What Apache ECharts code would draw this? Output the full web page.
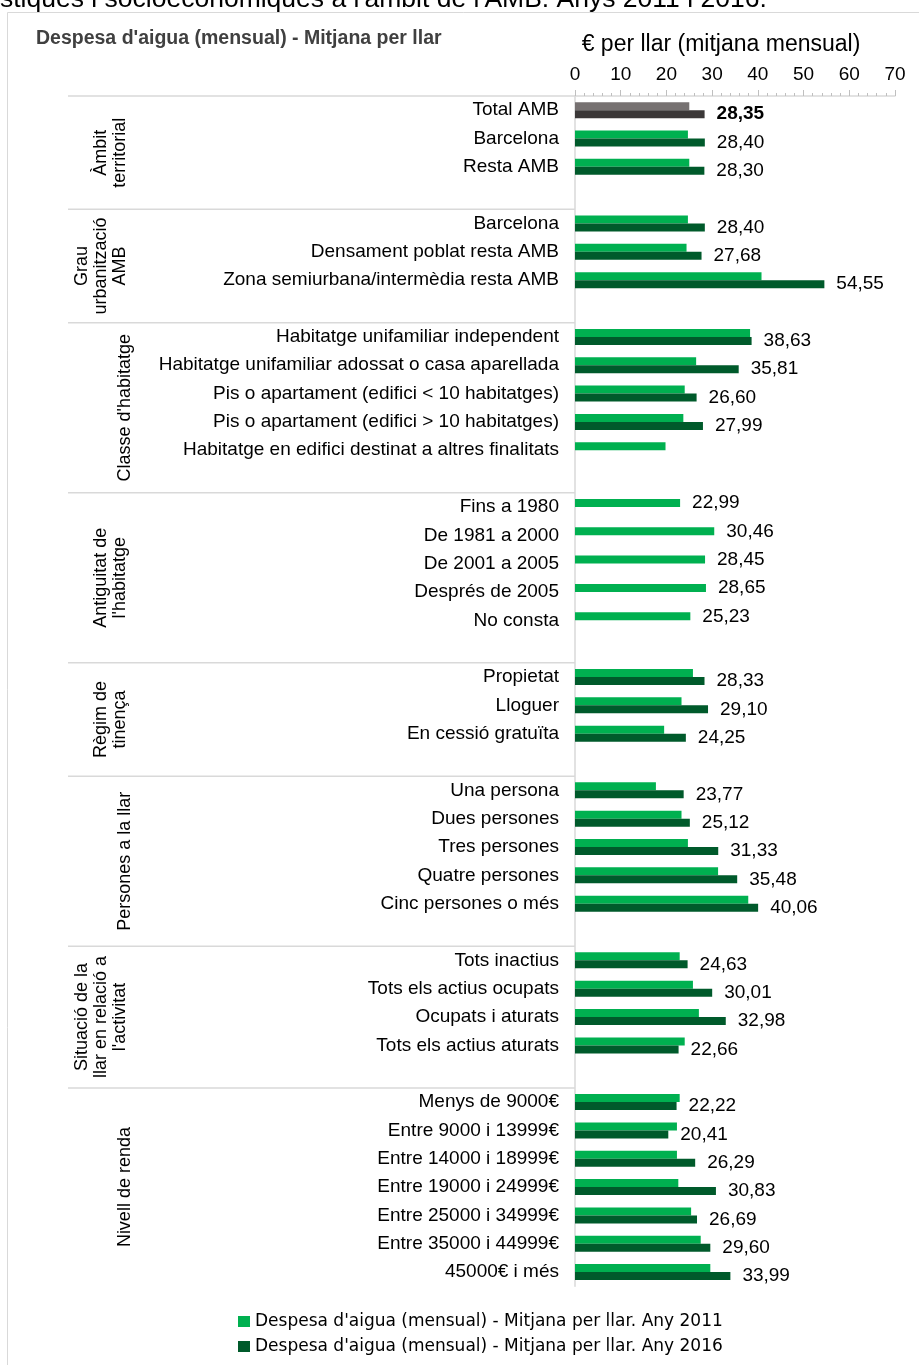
<!DOCTYPE html>
<html><head><meta charset="utf-8">
<script src="https://cdn.jsdelivr.net/npm/echarts@6/dist/echarts.min.js"></script>
<style>html,body{margin:0;padding:0;background:#fff}#c{width:919px;height:1365px}</style>
</head><body><div id="c"></div>
<script>
// ---------------- DATA ----------------
const pageTitle = "stiques i socioeconòmiques a l'àmbit de l'AMB. Anys 2011 i 2016.";
const chartTitle = "Despesa d'aigua (mensual) - Mitjana per llar";
const axisTitle = "€ per llar (mitjana mensual)";
const seriesNames = [
  "Despesa d'aigua (mensual) - Mitjana per llar. Any 2011",
  "Despesa d'aigua (mensual) - Mitjana per llar. Any 2016"
];
const groupNames = [
  "Àmbit\nterritorial",
  "Grau\nurbanització\nAMB",
  "Classe d'habitatge",
  "Antiguitat de\nl'habitatge",
  "Règim de\ntinença",
  "Persones a la llar",
  "Situació de la\nllar en relació a\nl'activitat",
  "Nivell de renda"
];
// '' marks the empty slot that separates groups
const categories = [
  "Total AMB", "Barcelona", "Resta AMB", "",
  "Barcelona", "Densament poblat resta AMB", "Zona semiurbana/intermèdia resta AMB", "",
  "Habitatge unifamiliar independent", "Habitatge unifamiliar adossat o casa aparellada",
  "Pis o apartament (edifici < 10 habitatges)", "Pis o apartament (edifici > 10 habitatges)",
  "Habitatge en edifici destinat a altres finalitats", "",
  "Fins a 1980", "De 1981 a 2000", "De 2001 a 2005", "Després de 2005", "No consta", "",
  "Propietat", "Lloguer", "En cessió gratuïta", "",
  "Una persona", "Dues persones", "Tres persones", "Quatre persones", "Cinc persones o més", "",
  "Tots inactius", "Tots els actius ocupats", "Ocupats i aturats", "Tots els actius aturats", "",
  "Menys de 9000€", "Entre 9000 i 13999€", "Entre 14000 i 18999€", "Entre 19000 i 24999€",
  "Entre 25000 i 34999€", "Entre 35000 i 44999€", "45000€ i més"
];
const values2011 = [
  25.0, 24.7, 25.0, null,
  24.7, 24.4, 40.8, null,
  38.3, 26.5, 24.0, 23.7, 19.8, null,
  22.99, 30.46, 28.45, 28.65, 25.23, null,
  25.8, 23.3, 19.5, null,
  17.7, 23.3, 24.7, 31.3, 37.9, null,
  22.9, 25.8, 27.1, 24.0, null,
  22.9, 22.3, 22.3, 22.6, 25.4, 27.5, 29.6
];
const values2016 = [
  28.35, 28.40, 28.30, null,
  28.40, 27.68, 54.55, null,
  38.63, 35.81, 26.60, 27.99, null, null,
  null, null, null, null, null, null,
  28.33, 29.10, 24.25, null,
  23.77, 25.12, 31.33, 35.48, 40.06, null,
  24.63, 30.01, 32.98, 22.66, null,
  22.22, 20.41, 26.29, 30.83, 26.69, 29.60, 33.99
];
const unlabelled = ["Habitatge en edifici destinat a altres finalitats"];
const xMin = 0, xMax = 70, xInterval = 10;

// ---------------- STYLE ----------------
const FONT = "'Liberation Sans', Arial, sans-serif";
const C2011 = '#00b050', C2016 = '#005a2b', CTOT11 = '#767171', CTOT16 = '#3b3838';
const GRID_LEFT = 575, GRID_TOP = 96;

function fmt(v) { return v.toFixed(2).replace('.', ','); }

const data2011 = values2011.map((v, i) => {
  if (v == null) return '-';
  const item = { value: v };
  if (categories[i] === 'Total AMB') item.itemStyle = { color: CTOT11 };
  if (values2016[i] == null && !unlabelled.includes(categories[i])) item.label = { show: true };
  return item;
});
const data2016 = values2016.map((v, i) => {
  if (v == null) return '-';
  const item = { value: v };
  if (categories[i] === 'Total AMB') {
    item.itemStyle = { color: CTOT16 };
    item.label = { fontWeight: 'bold' };
  }
  return item;
});

const chart = echarts.init(document.getElementById('c'), null, { renderer: 'canvas' });
const labelCfg = {
  position: 'right', distance: 12, fontSize: 19, color: '#000', fontFamily: FONT,
  padding: [6, 0, 0, 0],
  formatter: p => fmt(p.value)
};
const nRows = categories.length;
const rowH = 28.34;

chart.setOption({
  animation: false,
  backgroundColor: '#fff',
  grid: { left: GRID_LEFT, right: 24, top: GRID_TOP, height: nRows * rowH, outerBoundsMode: 'none' },
  xAxis: {
    type: 'value', position: 'top', min: xMin, max: xMax, interval: xInterval,
    axisLine: { show: true, lineStyle: { color: '#d9d9d9', width: 1.5 } },
    axisTick: { show: true, length: 6, lineStyle: { color: '#bfbfbf' } },
    minorTick: { show: true, splitNumber: 5, length: 3, lineStyle: { color: '#bfbfbf' } },
    splitLine: { show: false },
    axisLabel: { fontSize: 19, color: '#000', margin: 12, fontFamily: FONT },
    name: axisTitle, nameLocation: 'middle', nameGap: 40,
    nameTextStyle: { fontSize: 23, color: '#000', fontFamily: FONT, padding: [0, 28, 0, 0] }
  },
  yAxis: {
    type: 'category', inverse: true, data: categories,
    axisLine: { show: true, lineStyle: { color: '#d9d9d9', width: 1.5 } },
    axisTick: { show: false },
    axisLabel: { interval: 0, fontSize: 19, color: '#000', margin: 16, fontFamily: FONT, padding: [6, 0, 0, 0] }
  },
  legend: {
    orient: 'vertical', left: 238, top: 1313, padding: 0, itemWidth: 12, itemHeight: 11, itemGap: 8,
    icon: 'rect', textStyle: { fontFamily: "'DejaVu Sans', sans-serif", fontSize: 17, color: '#000' },
    data: seriesNames
  },
  series: [
    { name: seriesNames[0], type: 'bar', data: data2011, barWidth: 8, barGap: '0%',
      itemStyle: { color: C2011 }, label: Object.assign({ show: false }, labelCfg) },
    { name: seriesNames[1], type: 'bar', data: data2016, barWidth: 8, barGap: '0%',
      itemStyle: { color: C2016 }, label: Object.assign({ show: true }, labelCfg) }
  ]
});

// ---------------- GROUP DECORATIONS ----------------
const yAt = i => chart.convertToPixel({ yAxisIndex: 0 }, i);
const band = yAt(1) - yAt(0);
const axisX = chart.convertToPixel({ xAxisIndex: 0 }, 0);
const groups = [];
let start = 0;
for (let i = 0; i <= nRows; i++) {
  if (i === nRows || categories[i] === '') {
    groups.push({ s: start, e: i - 1, blank: i < nRows });
    start = i + 1;
  }
}
const graphics = [];
// outer chart frame
graphics.push({ type: 'rect', shape: { x: 7.5, y: 12.5, width: 1000, height: 1500 },
  style: { fill: 'none', stroke: '#d9d9d9', lineWidth: 1 }, silent: true });
// clipped page title
graphics.push({ type: 'text', x: 0, y: 13, style: { text: pageTitle, fontSize: 26.5, fontFamily: FONT,
  fill: '#000', align: 'left', verticalAlign: 'bottom' } });
// chart title
graphics.push({ type: 'text', x: 36, y: 39, style: { text: chartTitle, fontSize: 19.5, fontWeight: 'bold',
  fontFamily: FONT, fill: '#404040', align: 'left', verticalAlign: 'middle' } });
groups.forEach((g, k) => {
  const top = yAt(g.s) - band / 2;
  const bottom = (g.blank ? yAt(g.e + 1) : yAt(g.e)) + band / 2;
  graphics.push({ type: 'line', shape: { x1: 68, y1: top, x2: axisX, y2: top },
    style: { stroke: '#d9d9d9', lineWidth: 1.5 }, silent: true });
  const lines = groupNames[k].split('\n').length;
  graphics.push({ type: 'text', x: lines === 1 ? 135 : 130, y: (top + bottom) / 2, rotation: Math.PI / 2,
    style: { text: groupNames[k], fontSize: 18, fontFamily: FONT, fill: '#000',
      align: 'center', verticalAlign: 'bottom', lineHeight: 19 } });
});
chart.setOption({ graphic: graphics });
</script></body></html>
